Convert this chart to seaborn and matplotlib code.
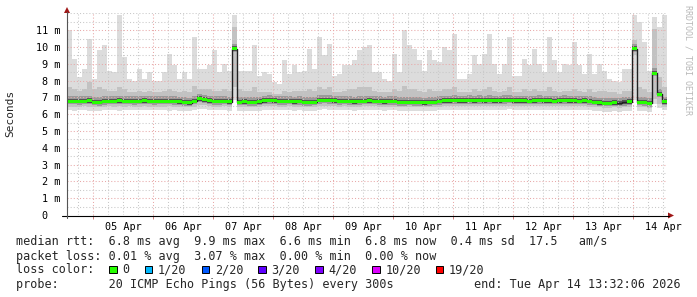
import numpy as np
import pandas as pd
import matplotlib
matplotlib.use("Agg")
import matplotlib.pyplot as plt
import matplotlib.dates as mdates
from matplotlib.ticker import MultipleLocator, FuncFormatter
from matplotlib.patches import Rectangle, Polygon
from matplotlib.lines import Line2D
import seaborn as sns

# ---------------- data (2-hour bins, start 2026-04-04 13:32:06) ----------------
start_time = "2026-04-04 13:32:06"
bin_hours = 2

rtt_max = [
    11.0, 9.3, 8.2, 8.7, 10.5, 8.1, 9.8, 10.1, 8.6, 8.5, 11.9, 9.4, 8.1, 8.0, 8.7,
    8.1, 8.5, 8.0, 8.0, 8.5, 9.6, 8.9, 8.1, 8.5, 8.1, 10.6, 8.7, 8.7, 8.9, 9.8,
    8.5, 9.0, 8.6, 11.9, 8.6, 8.6, 8.6, 10.1, 8.3, 8.5, 8.4, 7.9, 7.8, 9.2, 8.4,
    8.9, 8.5, 8.6, 9.9, 8.7, 10.6, 9.5, 10.2, 8.3, 8.4, 8.9, 8.9, 9.2, 9.8, 10.0,
    10.1, 8.5, 8.5, 8.1, 8.0, 9.6, 8.5, 11.0, 10.1, 9.9, 9.2, 8.6, 9.8, 9.2, 9.1,
    10.0, 9.8, 10.8, 8.1, 8.1, 8.4, 9.5, 9.0, 9.6, 10.8, 9.0, 8.4, 9.0, 10.6, 8.3,
    8.3, 9.3, 8.9, 9.9, 9.0, 8.5, 10.6, 9.2, 8.5, 9.0, 8.9, 10.3, 8.9, 8.4, 9.6,
    8.4, 9.0, 8.6, 8.1, 8.0, 7.9, 8.7, 8.7, 11.9, 11.5, 10.3, 8.6, 11.8, 11.2, 11.9,
]
rtt_hi = [
    7.6, 7.5, 7.4, 7.5, 7.9, 7.5, 7.6, 7.5, 7.4, 7.4, 7.6, 7.5, 7.3, 7.3, 7.4,
    7.3, 7.4, 7.3, 7.3, 7.4, 7.5, 7.4, 7.3, 7.4, 7.3, 7.7, 7.5, 7.5, 7.5, 7.4,
    7.4, 7.5, 7.4, 11.2, 7.5, 7.4, 7.4, 7.6, 7.3, 7.3, 7.3, 7.2, 7.2, 7.4, 7.3,
    7.4, 7.4, 7.4, 7.5, 7.4, 7.6, 7.5, 7.6, 7.3, 7.3, 7.4, 7.5, 7.5, 7.6, 7.6,
    7.6, 7.4, 7.3, 7.3, 7.3, 7.5, 7.4, 7.7, 7.5, 7.5, 7.4, 7.3, 7.5, 7.4, 7.4,
    7.5, 7.5, 7.6, 7.3, 7.3, 7.3, 7.5, 7.4, 7.5, 7.6, 7.4, 7.3, 7.4, 7.6, 7.3,
    7.3, 7.5, 7.4, 7.5, 7.4, 7.4, 7.6, 7.4, 7.3, 7.4, 7.4, 7.5, 7.4, 7.3, 7.5,
    7.3, 7.4, 7.4, 7.3, 7.3, 7.2, 7.4, 7.4, 10.4, 7.6, 7.5, 7.3, 11.1, 8.2, 7.6,
]
rtt_median = [
    6.78, 6.78, 6.76, 6.78, 6.80, 6.72, 6.70, 6.76, 6.78, 6.78, 6.80, 6.78, 6.78, 6.76, 6.78,
    6.80, 6.78, 6.76, 6.78, 6.78, 6.78, 6.76, 6.74, 6.70, 6.68, 6.78, 6.92, 6.86, 6.80, 6.76,
    6.76, 6.78, 6.74, 9.90, 6.72, 6.74, 6.70, 6.70, 6.74, 6.80, 6.82, 6.80, 6.76, 6.76, 6.78,
    6.74, 6.76, 6.70, 6.70, 6.72, 6.82, 6.84, 6.82, 6.80, 6.76, 6.78, 6.76, 6.74, 6.76, 6.78,
    6.80, 6.78, 6.76, 6.74, 6.76, 6.76, 6.70, 6.70, 6.72, 6.70, 6.70, 6.68, 6.70, 6.72, 6.76,
    6.80, 6.80, 6.82, 6.80, 6.80, 6.82, 6.80, 6.82, 6.80, 6.82, 6.80, 6.80, 6.82, 6.84, 6.80,
    6.80, 6.80, 6.78, 6.80, 6.82, 6.80, 6.80, 6.78, 6.80, 6.82, 6.80, 6.80, 6.78, 6.80, 6.76,
    6.72, 6.68, 6.66, 6.66, 6.68, 6.66, 6.70, 6.74, 9.90, 6.72, 6.70, 6.64, 8.45, 7.20, 6.75,
]
rtt_lo = [
    6.45, 6.45, 6.44, 6.46, 6.45, 6.42, 6.42, 6.45, 6.46, 6.45, 6.46, 6.45, 6.46, 6.44, 6.45,
    6.46, 6.45, 6.44, 6.45, 6.45, 6.46, 6.44, 6.43, 6.42, 6.40, 6.45, 6.55, 6.52, 6.48, 6.45,
    6.45, 6.46, 6.44, 7.60, 6.42, 6.43, 6.41, 6.41, 6.43, 6.47, 6.48, 6.47, 6.45, 6.45, 6.46,
    6.44, 6.45, 6.41, 6.41, 6.42, 6.48, 6.50, 6.48, 6.47, 6.45, 6.46, 6.45, 6.44, 6.45, 6.46,
    6.47, 6.46, 6.45, 6.44, 6.45, 6.45, 6.41, 6.41, 6.42, 6.41, 6.41, 6.40, 6.41, 6.42, 6.45,
    6.47, 6.47, 6.48, 6.47, 6.47, 6.48, 6.47, 6.48, 6.47, 6.48, 6.47, 6.47, 6.48, 6.50, 6.47,
    6.47, 6.47, 6.46, 6.47, 6.48, 6.47, 6.47, 6.46, 6.47, 6.48, 6.47, 6.47, 6.46, 6.47, 6.45,
    6.42, 6.40, 6.39, 6.39, 6.40, 6.39, 6.41, 6.44, 9.50, 6.42, 6.41, 6.38, 6.90, 6.60, 6.45,
]
rtt_min = [
    6.25, 6.22, 6.24, 6.26, 6.20, 6.18, 6.20, 6.25, 6.24, 6.26, 6.22, 6.25, 6.27, 6.24, 6.26,
    6.25, 6.23, 6.26, 6.24, 6.25, 6.22, 6.24, 6.21, 6.20, 6.18, 6.23, 6.30, 6.28, 6.25, 6.24,
    6.24, 6.25, 6.22, 6.85, 6.20, 6.22, 6.19, 6.20, 6.22, 6.26, 6.27, 6.25, 6.24, 6.23, 6.25,
    6.22, 6.24, 6.20, 6.18, 6.21, 6.26, 6.28, 6.26, 6.25, 6.24, 6.25, 6.23, 6.22, 6.24, 6.25,
    6.26, 6.24, 6.23, 6.22, 6.24, 6.23, 6.18, 6.19, 6.20, 6.19, 6.18, 6.17, 6.19, 6.21, 6.24,
    6.26, 6.26, 6.27, 6.25, 6.26, 6.27, 6.25, 6.27, 6.26, 6.27, 6.25, 6.26, 6.27, 6.28, 6.25,
    6.26, 6.25, 6.24, 6.26, 6.27, 6.25, 6.26, 6.24, 6.25, 6.27, 6.25, 6.26, 6.24, 6.25, 6.23,
    6.20, 6.17, 6.16, 6.16, 6.18, 6.16, 6.19, 6.22, 6.85, 6.20, 6.19, 6.15, 6.60, 6.38, 6.24,
]
loss = [
    0, 0, 0, 0, 0, 0, 0, 0, 0, 0, 0, 0, 0, 0, 0,
    0, 0, 0, 0, 0, 0, 0, 0, 0, 0, 0, 0, 0, 0, 0,
    0, 0, 0, 0, 0, 0, 0, 0, 0, 0, 0, 0, 0, 0, 0,
    0, 0, 0, 0, 0, 0, 0, 0, 0, 0, 0, 0, 0, 0, 0,
    0, 0, 0, 0, 0, 0, 0, 0, 0, 0, 0, 0, 0, 0, 0,
    0, 0, 0, 0, 0, 0, 0, 0, 0, 0, 0, 0, 0, 0, 0,
    0, 0, 0, 0, 0, 0, 0, 0, 0, 0, 0, 0, 0, 0, 0,
    0, 0, 0, 0, 0, 0, 1, 0, 0, 0, 0, 0, 0, 0, 0,
]

loss_levels = [0, 1, 2, 3, 4, 10, 19]
loss_labels = ["0", "1/20", "2/20", "3/20", "4/20", "10/20", "19/20"]
loss_colors = ["#26ff00", "#00b8ff", "#0059ff", "#5e00ff", "#7e00ff", "#dd00ff", "#ff0000"]

y_ticks = [0, 1, 2, 3, 4, 5, 6, 7, 8, 9, 10, 11]

legend_rows = [
    "median rtt:  6.8 ms avg  9.9 ms max  6.6 ms min  6.8 ms now  0.4 ms sd  17.5   am/s",
    "packet loss: 0.01 % avg  3.07 % max  0.00 % min  0.00 % now",
    "loss color:",
    "probe:       20 ICMP Echo Pings (56 Bytes) every 300s",
]
end_text = "end: Tue Apr 14 13:32:06 2026"
credit_text = "RRDTOOL / TOBI OETIKER"

# ---------------- figure ----------------
sns.set_theme(style="white")
plt.rcParams["font.family"] = ["DejaVu Sans Mono", "DejaVu Sans"]

W, H = 697, 297
fig = plt.figure(figsize=(W / 100, H / 100), dpi=100)
fig.patch.set_facecolor("white")

X0, X1, YB, YT = 67, 667, 215, 13.4
ax = fig.add_axes([X0 / W, (H - YB) / H, (X1 - X0) / W, (YB - YT) / H])
ax.set_facecolor("white")

n = len(rtt_median)
edges = pd.date_range(start_time, periods=n + 1, freq=f"{bin_hours}h")
xe = mdates.date2num(edges)


def ext(a):
    a = np.asarray(a, dtype=float)
    return np.append(a, a[-1])


mx, hi, md, lo, mn = map(ext, (rtt_max, rtt_hi, rtt_median, rtt_lo, rtt_min))
ls_ = ext(loss)

# smoke
ax.fill_between(xe, mn, mx, step="post", color="#dcdcdc", lw=0, zorder=1)
ax.fill_between(xe, lo, hi, step="post", color="#c2c2c2", lw=0, zorder=1.1)
ax.fill_between(xe, md - 0.2, md + 0.3, step="post", color="#9a9a9a", lw=0, zorder=1.2)
ax.fill_between(xe, md - 0.12, md + 0.14, step="post", color="#555555", lw=0, zorder=1.3)

# median line (dark step) + loss coloured band
df = pd.DataFrame({"time": xe, "median": md})
sns.lineplot(data=df, x="time", y="median", drawstyle="steps-post",
             color="#202020", lw=1.0, ax=ax, zorder=3)
for lvl, col in zip(loss_levels, loss_colors):
    m = np.where(ls_ == lvl, md, np.nan)
    if np.all(np.isnan(m[:-1])):
        continue
    m2 = m.copy()
    # close the step segment
    for i in range(n):
        if not np.isnan(m[i]) and np.isnan(m2[i + 1]):
            pass
    ax.fill_between(xe, m - 0.09, m + 0.09, step="post", color=col, lw=0, zorder=3.2)

ax.set_xlim(xe[0], xe[-1])
ax.set_ylim(0, 12)

# grid
ax.xaxis.set_major_locator(mdates.DayLocator())
ax.xaxis.set_minor_locator(mdates.HourLocator(byhour=[6, 12, 18]))
ax.xaxis.set_major_formatter(FuncFormatter(lambda v, p: ""))


def xfmt(v, p):
    d = mdates.num2date(v)
    return d.strftime("%d %b") if d.hour == 12 else ""


ax.xaxis.set_minor_formatter(FuncFormatter(xfmt))
ax.yaxis.set_major_locator(MultipleLocator(1))
ax.yaxis.set_minor_locator(MultipleLocator(0.5))
ax.set_yticks(y_ticks)
ax.yaxis.set_major_formatter(FuncFormatter(lambda v, p: "0  " if v == 0 else f"{int(v)} m"))

ax.set_axisbelow(False)
ax.grid(which="major", color="#e8a8a8", ls=(0, (1, 2)), lw=0.75, zorder=2.5)
ax.grid(which="minor", color="#c8c8c8", ls=(0, (1, 2)), lw=0.75, zorder=2.5)

ax.tick_params(axis="x", which="major", length=3, width=0.7, color="#d08080",
               direction="out", bottom=True)
ax.tick_params(axis="x", which="minor", length=0, pad=5, labelsize=7.3, labelcolor="#000000")
ax.tick_params(axis="y", which="both", length=0, pad=5, labelsize=7.3, labelcolor="#000000")
for s in ax.spines.values():
    s.set_visible(False)
ax.set_xlabel("")
ax.set_ylabel("")

# axis lines with arrows (figure pixel coords)
def px(x, y):
    return (x / W, 1 - y / H)


fig.add_artist(Line2D([62 / W, 669 / W], [1 - 215.5 / H] * 2, color="black", lw=0.8,
                      transform=fig.transFigure))
fig.add_artist(Line2D([67 / W] * 2, [1 - 218 / H, 1 - 12 / H], color="#555555", lw=0.8,
                      transform=fig.transFigure))
fig.add_artist(Polygon([px(668, 212.5), px(674, 215.5), px(668, 218.5)], closed=True,
                       facecolor="#a01818", edgecolor="none", transform=fig.transFigure))
fig.add_artist(Polygon([px(64, 13), px(67, 7), px(70, 13)], closed=True,
                       facecolor="#a01818", edgecolor="none", transform=fig.transFigure))

# y label
fig.text(10 / W, 1 - 113 / H, "Seconds", rotation=90, ha="center", va="center", fontsize=8)

# credit
fig.text(688 / W, 1 - 5 / H, credit_text, rotation=270, ha="center", va="top",
         fontsize=6, color="#b8b8b8")

# legend text
CW = 7.1
LX = 16
baselines = [245.3, 259.6, 273.4, 287.6]
for s, b in zip(legend_rows, baselines):
    fig.text(LX / W, 1 - b / H, s, ha="left", va="baseline", fontsize=8.5)
fig.text(681 / W, 1 - baselines[3] / H, end_text, ha="right", va="baseline", fontsize=8.5)

sq_cols = [13, 18, 26, 34, 42, 50, 59]
for c, lab, col in zip(sq_cols, loss_labels, loss_colors):
    x = LX + c * CW + 1
    fig.add_artist(Rectangle((x / W, 1 - 273 / H), 7.5 / W, 7.5 / H, facecolor=col,
                             edgecolor="black", lw=0.7, transform=fig.transFigure))
    fig.text((LX + (c + 2) * CW) / W, 1 - baselines[2] / H, lab, ha="left",
             va="baseline", fontsize=8.5)

fig.savefig("out.png", dpi=100, facecolor="white")
